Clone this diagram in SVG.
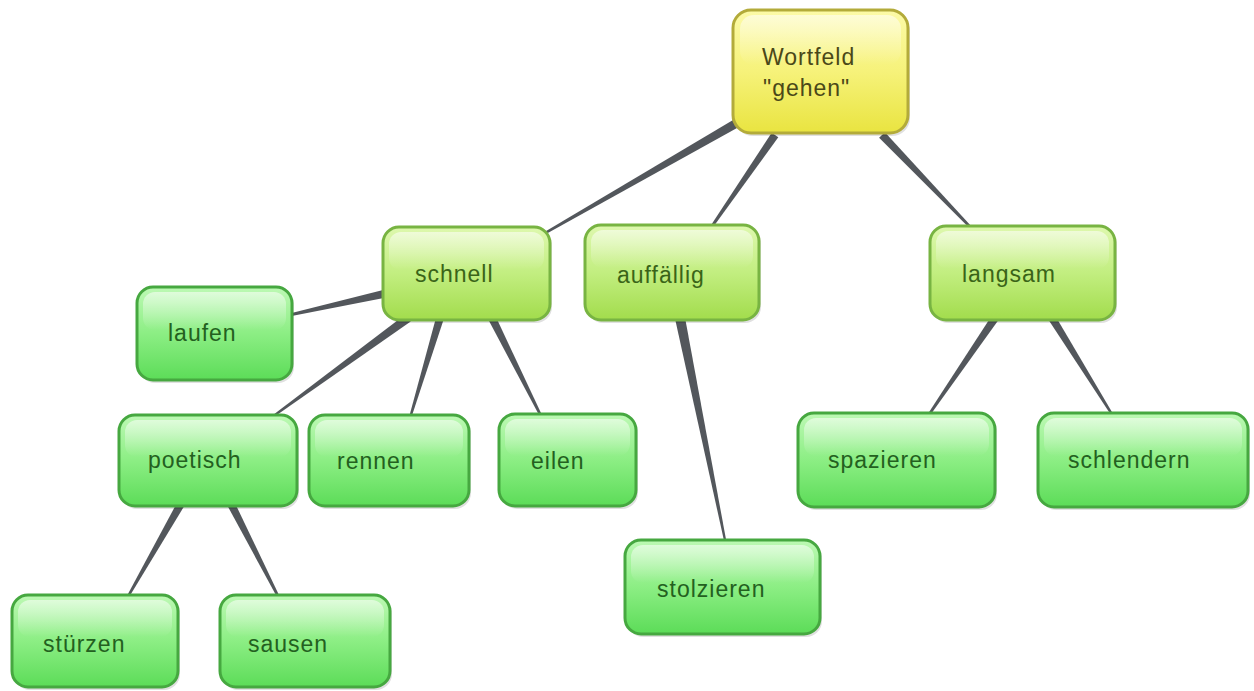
<svg xmlns="http://www.w3.org/2000/svg" width="1254" height="691" viewBox="0 0 1254 691">
<defs>
<linearGradient id="gY" x1="0" y1="0" x2="0" y2="1"><stop offset="0" stop-color="#fcfaa8"/><stop offset="0.5" stop-color="#f6f27a"/><stop offset="1" stop-color="#e9e440"/></linearGradient>
<linearGradient id="gL" x1="0" y1="0" x2="0" y2="1"><stop offset="0" stop-color="#def8ae"/><stop offset="0.5" stop-color="#c2ee80"/><stop offset="1" stop-color="#a2dc4c"/></linearGradient>
<linearGradient id="gG" x1="0" y1="0" x2="0" y2="1"><stop offset="0" stop-color="#bdf9b4"/><stop offset="0.5" stop-color="#8cee84"/><stop offset="1" stop-color="#5cdc58"/></linearGradient>
<linearGradient id="gloss" x1="0" y1="0" x2="0" y2="1"><stop offset="0" stop-color="#ffffff" stop-opacity="0.55"/><stop offset="1" stop-color="#ffffff" stop-opacity="0"/></linearGradient>
</defs>
<style>
.sh{fill:#000;opacity:0.12}
.y{fill:url(#gY);stroke:#b3ab3a;stroke-width:3}
.l{fill:url(#gL);stroke:#78b442;stroke-width:3}
.g{fill:url(#gG);stroke:#46a840;stroke-width:3}
.gl{fill:url(#gloss)}
text{font-family:"Liberation Sans",Arial,sans-serif;font-size:23px;letter-spacing:1px}
.ty{fill:#4a4818}
.tl{fill:#3a6418}
.tg{fill:#236020}
.c{fill:#53575c}
</style>
<rect width="1254" height="691" fill="#ffffff"/>
<g id="connectors">
<polygon class="c" points="739.8,116.1 744.2,123.9 540.6,237.0 539.4,235.0"/>
<polygon class="c" points="771.7,132.7 778.3,137.3 709.0,232.7 707.0,231.3"/>
<polygon class="c" points="879.1,137.8 884.9,132.2 975.9,231.2 974.1,232.8"/>
<polygon class="c" points="387.1,289.1 388.9,296.9 285.3,317.2 284.7,314.8"/>
<polygon class="c" points="405.3,314.4 410.7,321.6 268.6,420.8 267.4,419.2"/>
<polygon class="c" points="436.2,316.9 443.8,319.1 411.1,418.3 408.9,417.7"/>
<polygon class="c" points="488.4,319.8 495.6,316.2 543.1,417.5 540.9,418.5"/>
<polygon class="c" points="675.1,319.0 684.9,317.0 727.0,544.8 725.0,545.2"/>
<polygon class="c" points="991.7,315.7 998.3,320.3 929.0,416.7 927.0,415.3"/>
<polygon class="c" points="1048.6,320.1 1055.4,315.9 1114.0,415.4 1112.0,416.6"/>
<polygon class="c" points="178.5,500.0 185.5,504.0 127.0,600.6 125.0,599.4"/>
<polygon class="c" points="226.4,503.8 233.6,500.2 281.1,599.5 278.9,600.5"/>
</g>
<g id="n-wortfeld">
<rect class="sh" x="735" y="13" width="175" height="123" rx="18"/>
<rect class="y" x="733" y="10" width="175" height="123" rx="18"/>
<rect class="gl" x="740" y="15" width="161" height="50" rx="14"/>
<text class="ty" x="762" y="65">Wortfeld</text>
<text class="ty" x="763" y="96">"gehen"</text>
</g>
<g id="n-schnell">
<rect class="sh" x="385" y="230" width="167" height="93" rx="16"/>
<rect class="l" x="383" y="227" width="167" height="93" rx="16"/>
<rect class="gl" x="389" y="232" width="155" height="38" rx="12"/>
<text class="tl" x="415" y="282">schnell</text>
</g>
<g id="n-auffaellig">
<rect class="sh" x="587" y="228" width="174" height="95" rx="16"/>
<rect class="l" x="585" y="225" width="174" height="95" rx="16"/>
<rect class="gl" x="591" y="230" width="162" height="38" rx="12"/>
<text class="tl" x="617" y="283">auffällig</text>
</g>
<g id="n-langsam">
<rect class="sh" x="932" y="229" width="185" height="94" rx="16"/>
<rect class="l" x="930" y="226" width="185" height="94" rx="16"/>
<rect class="gl" x="936" y="231" width="173" height="38" rx="12"/>
<text class="tl" x="962" y="282">langsam</text>
</g>
<g id="n-laufen">
<rect class="sh" x="139" y="290" width="155" height="93" rx="16"/>
<rect class="g" x="137" y="287" width="155" height="93" rx="16"/>
<rect class="gl" x="143" y="292" width="143" height="38" rx="12"/>
<text class="tg" x="168" y="341">laufen</text>
</g>
<g id="n-poetisch">
<rect class="sh" x="121" y="418" width="178" height="91" rx="16"/>
<rect class="g" x="119" y="415" width="178" height="91" rx="16"/>
<rect class="gl" x="125" y="420" width="166" height="37" rx="12"/>
<text class="tg" x="148" y="468">poetisch</text>
</g>
<g id="n-rennen">
<rect class="sh" x="311" y="418" width="160" height="91" rx="16"/>
<rect class="g" x="309" y="415" width="160" height="91" rx="16"/>
<rect class="gl" x="315" y="420" width="148" height="37" rx="12"/>
<text class="tg" x="337" y="469">rennen</text>
</g>
<g id="n-eilen">
<rect class="sh" x="501" y="417" width="137" height="92" rx="16"/>
<rect class="g" x="499" y="414" width="137" height="92" rx="16"/>
<rect class="gl" x="505" y="419" width="125" height="37" rx="12"/>
<text class="tg" x="531" y="469">eilen</text>
</g>
<g id="n-spazieren">
<rect class="sh" x="800" y="416" width="197" height="94" rx="16"/>
<rect class="g" x="798" y="413" width="197" height="94" rx="16"/>
<rect class="gl" x="804" y="418" width="185" height="38" rx="12"/>
<text class="tg" x="828" y="468">spazieren</text>
</g>
<g id="n-schlendern">
<rect class="sh" x="1040" y="416" width="210" height="94" rx="16"/>
<rect class="g" x="1038" y="413" width="210" height="94" rx="16"/>
<rect class="gl" x="1044" y="418" width="198" height="38" rx="12"/>
<text class="tg" x="1068" y="468">schlendern</text>
</g>
<g id="n-stolzieren">
<rect class="sh" x="627" y="543" width="195" height="94" rx="16"/>
<rect class="g" x="625" y="540" width="195" height="94" rx="16"/>
<rect class="gl" x="631" y="545" width="183" height="38" rx="12"/>
<text class="tg" x="657" y="597">stolzieren</text>
</g>
<g id="n-stuerzen">
<rect class="sh" x="14" y="598" width="166" height="92" rx="16"/>
<rect class="g" x="12" y="595" width="166" height="92" rx="16"/>
<rect class="gl" x="18" y="600" width="154" height="37" rx="12"/>
<text class="tg" x="43" y="652">stürzen</text>
</g>
<g id="n-sausen">
<rect class="sh" x="222" y="598" width="170" height="92" rx="16"/>
<rect class="g" x="220" y="595" width="170" height="92" rx="16"/>
<rect class="gl" x="226" y="600" width="158" height="37" rx="12"/>
<text class="tg" x="248" y="652">sausen</text>
</g>
</svg>
